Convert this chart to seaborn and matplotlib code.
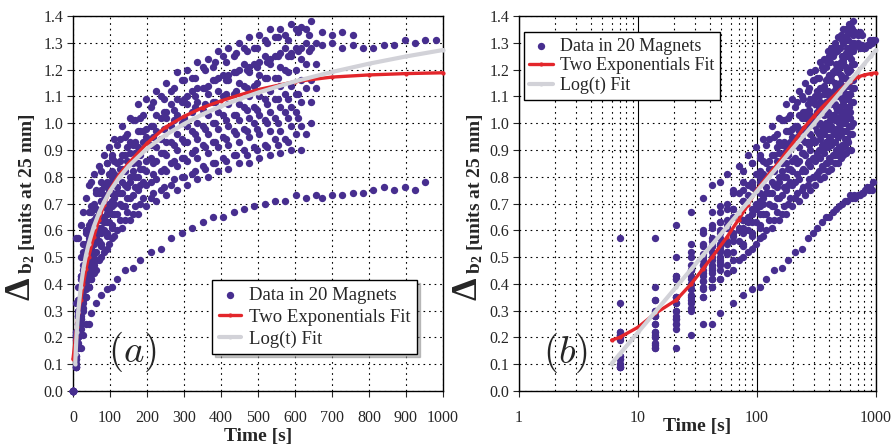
import pandas as pd
import matplotlib
matplotlib.use('Agg')
import matplotlib.pyplot as plt
import seaborn as sns
from matplotlib.ticker import FormatStrFormatter, FixedLocator, LogLocator, NullFormatter, FuncFormatter

# sample times [s]; the magnets were logged on three staggered clocks
T_A = [0, 7, 14, 21, 28, 35, 42, 49, 56, 70, 84, 98, 112, 133, 154, 175, 196, 224, 252,
       280, 308, 336, 364, 392, 420, 448, 476, 504, 532, 560, 588, 616, 644]
T_B = [0, 7, 14, 21, 28, 35, 42, 49, 63, 77, 91, 105, 119, 140, 161, 182, 210, 238, 266,
       294, 322, 350, 378, 406, 434, 462, 490, 518, 546, 574, 602, 630, 658]
T_C = [0, 7, 14, 21, 28, 35, 42, 49, 56, 63, 77, 91, 105, 126, 147, 168, 189, 217, 245,
       273, 301, 329, 357, 385, 413, 441, 469, 497, 525, 553, 581, 609, 637]
# later samples for the three magnets measured longer
T_LONG = [672, 700, 728, 756, 784, 812, 840, 868, 896, 924, 952, 980]

# delta b2 [units at 25 mm], one list per magnet
magnet_01 = [0.0, 0.57, 0.57, 0.62, 0.67, .72, .77, .78, .81, .84, .88, .91, .94, .99, 1.02, 1.07, 1.09,
             1.12, 1.15, 1.19, 1.20, 1.23, 1.24, 1.27, 1.28, 1.30, 1.32, 1.33, 1.35, 1.35, 1.37, 1.36, 1.38]
magnet_02 = [0.0, 0.33, 0.39, 0.50, 0.55, .60, .67, .69, .74, .78, .85, .87, .92, .95, 1.01, 1.02, 1.06,
             1.10, 1.12, 1.16, 1.17, 1.21, 1.21, 1.25, 1.25, 1.28, 1.28, 1.31, 1.32, 1.33, 1.35, 1.35]
magnet_03 = [0.0, 0.22, 0.34, 0.43, 0.52, .59, .62, .67, .70, .75, .82, .85, .88, .94, .96, 1.01, 1.03,
             1.08, 1.09, 1.13, 1.16, 1.17, 1.20, 1.23, 1.23, 1.26, 1.27, 1.28, 1.30, 1.32, 1.31, 1.34, 1.33]
magnet_04 = [0.0, 0.21, 0.30, 0.42, 0.50, .55, .61, .63, .68, .74, .77, .81, .86, .88, .93, .97, .98,
             1.03, 1.04, 1.09, 1.10, 1.13, 1.14, 1.17, 1.18, 1.20, 1.21, 1.23, 1.24, 1.26, 1.26, 1.28, 1.28]
magnet_05 = [0.0, 0.20, 0.28, 0.35, 0.47, .54, .57, .63, .65, .71, .77, .80, .85, .88, .92, .97, .99,
             1.02, 1.07, 1.08, 1.12, 1.13, 1.16, 1.18, 1.19, 1.22, 1.22, 1.25, 1.25, 1.28, 1.28, 1.30, 1.30]
magnet_06 = [0.0, 0.19, 0.30, 0.42, 0.45, .50, .56, .60, .64, .68, .75, .78, .82, .86, .91, .93, .97,
             .99, 1.04, 1.05, 1.09, 1.10, 1.13, 1.16, 1.16, 1.19, 1.20, 1.21, 1.23, 1.25, 1.25, 1.27, 1.27]
magnet_07 = [0.0, 0.21, 0.25, 0.35, 0.43, .49, .54, .57, .62, .66, .73, .75, .81, .83, .89, .91, .95,
             .97, 1.02, 1.03, 1.07, 1.08, 1.11, 1.12, 1.16, 1.15, 1.19, 1.18, 1.22, 1.21, 1.25, 1.24]
magnet_08 = [0.0, 0.13, 0.22, 0.30, 0.40, .47, .50, .55, .59, .64, .68, .74, .76, .82, .85, .88, .92,
             .94, .99, 1.00, 1.04, 1.05, 1.08, 1.10, 1.11, 1.14, 1.14, 1.17, 1.17, 1.20, 1.20, 1.22, 1.22]
magnet_09 = [0.0, 0.22, 0.34, 0.43, 0.45, .51, .54, .59, .61, .68, .71, .76, .78, .83, .86, .89, .93,
             .95, .98, 1.01, 1.02, 1.06, 1.07, 1.08, 1.11, 1.12, 1.13, 1.15, 1.17, 1.17, 1.19]
magnet_10 = [0.0, 0.12, 0.21, 0.28, 0.38, .44, .47, .53, .55, .61, .65, .70, .72, .78, .80, .85, .86,
             .91, .93, .96, .99, 1.00, 1.03, 1.04, 1.07, 1.07, 1.10, 1.10, 1.12, 1.14, 1.14, 1.16, 1.16]
magnet_11 = [0.0, 0.20, 0.28, 0.33, 0.42, .47, .52, .54, .58, .64, .66, .71, .74, .77, .82, .83, .87,
             .89, .93, .94, .97, .99, 1.00, 1.03, 1.03, 1.06, 1.06, 1.09, 1.09, 1.11, 1.11, 1.13, 1.13]
magnet_12 = [0.0, 0.10, 0.20, 0.27, 0.35, .41, .44, .49, .52, .58, .61, .66, .69, .74, .76, .80, .83,
             .85, .89, .92, .93, .96, .98, 1.00, 1.01, 1.03, 1.05, 1.05, 1.07, 1.09, 1.09, 1.11]
magnet_13 = [0.0, 0.13, 0.25, 0.33, 0.40, .45, .49, .52, .56, .60, .63, .68, .70, .74, .78, .80, .82,
             .86, .88, .90, .93, .94, .96, .98, .99, 1.01, 1.02, 1.03, 1.04, 1.06, 1.06, 1.08, 1.08]
magnet_14 = [0.0, 0.09, 0.18, 0.25, 0.33, .39, .42, .47, .49, .54, .59, .62, .66, .69, .73, .77, .78,
             .82, .85, .87, .89, .92, .93, .95, .97, .98, 1.00, 1.01, 1.02, 1.04, 1.04]
magnet_15 = [0.0, 0.12, 0.22, 0.30, 0.36, .41, .45, .48, .51, .56, .59, .63, .66, .70, .72, .76, .78,
             .81, .83, .86, .87, .90, .91, .93, .94, .96, .97, .98, 1.00, 1.00, 1.02, 1.02]
magnet_16 = [0.0, 0.21, 0.28, 0.35, 0.38, .43, .46, .50, .52, .56, .60, .63, .66, .69, .72, .75, .77,
             .79, .82, .84, .86, .87, .89, .91, .92, .93, .95, .96, .97, .97, .99, .99, 1.00]
magnet_17 = [0.0, 0.09, 0.17, 0.23, 0.30, .35, .39, .42, .45, .50, .53, .57, .60, .64, .66, .70, .72,
             .75, .77, .80, .81, .84, .85, .87, .88, .90, .91, .92, .94, .94, .96, .96]
magnet_18 = [0.0, 0.10, 0.20, 0.27, 0.34, .38, .42, .45, .47, .52, .55, .58, .61, .64, .67, .69, .72,
             .74, .76, .79, .80, .82, .83, .85, .86, .88, .88, .90, .91, .92, .93]
magnet_19 = [0.0, 0.09, 0.16, 0.25, 0.31, .35, .39, .42, .44, .49, .52, .55, .58, .61, .64, .66, .69,
             .71, .73, .75, .77, .79, .80, .82, .83, .85, .85, .87, .88, .89, .90, .90]
magnet_20 = [0.0, 0.09, 0.16, 0.16, 0.21, .25, .25, .29, .33, .36, .38, .39, .42, .45, .46, .49, .52,
             .53, .57, .59, .61, .63, .65, .65, .67, .68, .69, .70, .71, .71, .73, .72, .73]
magnet_03_late = [1.34, 1.33, 1.34, 1.33]
magnet_04_late = [1.29, 1.30, 1.28, 1.29, 1.28, 1.28, 1.29, 1.29, 1.31, 1.30, 1.31, 1.31]
magnet_20_late = [.72, .73, .73, .74, .74, .75, .76, .75, .76, .75, .78]

# fits
EXP_T = [0, 6, 7, 10, 14, 21, 28, 35, 42, 56, 70, 84, 100, 126, 150, 200, 250, 300, 350,
         400, 450, 500, 600, 700, 800, 900, 1000]
two_exp_fit = [0.12, 0.19, 0.20, 0.238, 0.29, 0.34, 0.40, 0.455, 0.50, 0.575, 0.64, 0.695, 0.752,
               0.81, 0.85, 0.925, 0.985, 1.025, 1.058, 1.083, 1.105, 1.125, 1.155, 1.172, 1.18,
               1.185, 1.188]
LOG_T = [6, 7, 10, 14, 21, 28, 35, 42, 56, 70, 84, 100, 126, 150, 200, 250, 300, 350, 400,
         450, 500, 600, 700, 800, 900, 1000]
log_fit = [0.102, 0.137, 0.219, 0.296, 0.389, 0.455, 0.506, 0.547, 0.613, 0.664, 0.706, 0.746,
           0.799, 0.839, 0.905, 0.956, 0.997, 1.033, 1.063, 1.090, 1.114, 1.156, 1.191, 1.222,
           1.249, 1.273]

Y_TICKS = [0.0, 0.1, 0.2, 0.3, 0.4, 0.5, 0.6, 0.7, 0.8, 0.9, 1.0, 1.1, 1.2, 1.3, 1.4]
X_TICKS_LIN = [0, 100, 200, 300, 400, 500, 600, 700, 800, 900, 1000]
X_TICKS_LOG = [1, 10, 100, 1000]

PURPLE = '#472e8f'
RED = '#e3262b'
GREY = '#d2d2d8'

magnets = [magnet_01, magnet_02, magnet_03, magnet_04, magnet_05, magnet_06, magnet_07,
           magnet_08, magnet_09, magnet_10, magnet_11, magnet_12, magnet_13, magnet_14,
           magnet_15, magnet_16, magnet_17, magnet_18, magnet_19, magnet_20]
clocks = [T_A, T_B, T_C]
late = {3: magnet_03_late, 4: magnet_04_late, 20: magnet_20_late}

rows = []
for i, vals in enumerate(magnets, start=1):
    for t, v in zip(clocks[(i - 1) % 3], vals):
        rows.append((i, t, v))
    for t, v in zip(T_LONG, late.get(i, [])):
        rows.append((i, t, v))
data = pd.DataFrame(rows, columns=['magnet', 'time', 'db2'])
fit_exp = pd.DataFrame({'time': EXP_T, 'db2': two_exp_fit})
fit_log = pd.DataFrame({'time': LOG_T, 'db2': log_fit})

sns.set_style('ticks')
plt.rcParams['font.family'] = ['Liberation Serif', 'DejaVu Serif']
plt.rcParams['mathtext.fontset'] = 'custom'
plt.rcParams['mathtext.rm'] = 'Liberation Serif'
plt.rcParams['mathtext.it'] = 'Liberation Serif:italic'
plt.rcParams['mathtext.bf'] = 'Liberation Serif:bold'

fig = plt.figure(figsize=(8.92, 4.48), dpi=100)
W, H = 892, 448
ax1 = fig.add_axes([73 / W, 57 / H, 370 / W, 375 / H])
ax2 = fig.add_axes([519 / W, 57 / H, 357 / W, 375 / H])

dot = (0, (1.5, 3.5))


def draw(ax, log):
    d = data[data.time > 0] if log else data
    fe = fit_exp[fit_exp.time > 0] if log else fit_exp
    sns.scatterplot(data=d, x='time', y='db2', color=PURPLE, s=28, linewidth=0, ax=ax,
                    label='Data in 20 Magnets', zorder=3, clip_on=False)
    sns.lineplot(data=fe, x='time', y='db2', color=RED, lw=2.4, marker='o', markersize=3,
                 markeredgewidth=0, ax=ax, label='Two Exponentials Fit', estimator=None,
                 sort=False, zorder=4, clip_on=False)
    sns.lineplot(data=fit_log, x='time', y='db2', color=GREY, lw=3.0, marker='o', markersize=3,
                 markeredgewidth=0, ax=ax, label='Log(t) Fit', estimator=None,
                 sort=False, zorder=5, clip_on=False)
    ax.set_ylim(0, 1.4)
    ax.yaxis.set_major_locator(FixedLocator(Y_TICKS))
    ax.yaxis.set_major_formatter(FormatStrFormatter('%.1f'))
    ax.grid(True, which='major', axis='y', color='black', lw=0.8, ls=dot)
    ax.tick_params(direction='out', length=4, width=0.8, labelsize=11.5, pad=3)
    ax.tick_params(axis='x', pad=10)
    for sp in ax.spines.values():
        sp.set_visible(True)
        sp.set_color('black')
        sp.set_linewidth(1.0)
    ax.set_ylabel('')
    ax.set_xlabel('Time [s]', fontsize=14, fontweight='bold')


draw(ax1, False)
ax1.set_xlim(0, 1000)
ax1.xaxis.set_major_locator(FixedLocator(X_TICKS_LIN))
ax1.grid(True, which='major', axis='x', color='black', lw=0.8, ls=dot)
ax1.xaxis.labelpad = 1
ax1.legend(loc='upper left', bbox_to_anchor=(0.376, 0.296), borderaxespad=0, fontsize=13.5,
           frameon=True, fancybox=False, edgecolor='black', framealpha=1,
           shadow={'color': '0.55'}, handlelength=1.2, handletextpad=0.4,
           labelspacing=0.25, borderpad=0.35, scatterpoints=1)
ax1.get_legend().get_frame().set_linewidth(1.0)
ax1.text(0.16, 0.104, r'$(a)$', transform=ax1.transAxes, fontsize=28, ha='center',
         va='center', math_fontfamily='cm')

draw(ax2, True)
ax2.set_xscale('log')
ax2.set_xlim(1, 1000)
ax2.xaxis.set_major_locator(FixedLocator(X_TICKS_LOG))
ax2.xaxis.set_major_formatter(FuncFormatter(lambda v, p: '%d' % v))
ax2.xaxis.set_minor_locator(LogLocator(base=10, subs=[2, 3, 4, 5, 6, 7, 8, 9]))
ax2.xaxis.set_minor_formatter(NullFormatter())
ax2.tick_params(axis='x', which='minor', length=0)
ax2.grid(True, which='major', axis='x', color='black', lw=0.8, ls='-')
ax2.grid(True, which='minor', axis='x', color='black', lw=0.8, ls=dot)
ax2.xaxis.labelpad = -6
ax2.legend(loc='upper left', bbox_to_anchor=(0.014, 0.957), borderaxespad=0, fontsize=13,
           frameon=True, fancybox=False, edgecolor='black', framealpha=1,
           handlelength=1.3, handletextpad=0.4, labelspacing=0.15, borderpad=0.3,
           scatterpoints=1)
ax2.get_legend().get_frame().set_linewidth(1.0)
ax2.text(0.129, 0.101, r'$(b)$', transform=ax2.transAxes, fontsize=28, ha='center',
         va='center', math_fontfamily='cm')

# y labels: large delta followed by the rest, rotated
for x_delta, x_base in [(21.5, 32), (468, 480)]:
    fig.text(x_delta / W, 1 - 289 / H, '\u0394', rotation=90, fontsize=26, fontweight='bold',
             ha='center', va='center')
    fig.text(x_base / W, 1 - 274 / H, r'$\mathbf{b}_\mathbf{2}$ [units at 25 mm]', rotation=90,
             rotation_mode='anchor', ha='left', va='baseline', fontsize=14, fontweight='bold')

fig.savefig('out.png', dpi=100)
